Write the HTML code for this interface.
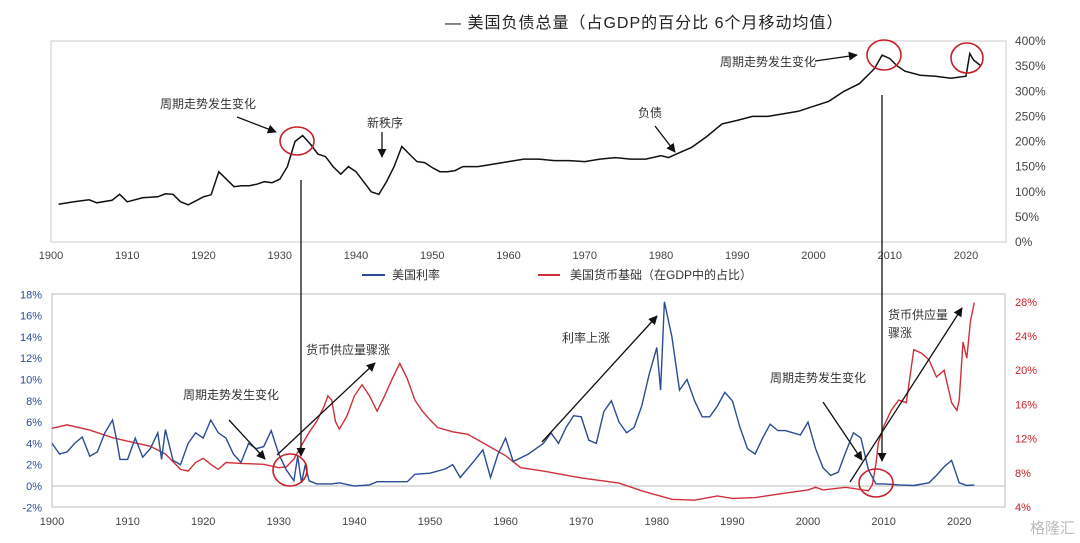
<!DOCTYPE html>
<html><head><meta charset="utf-8"><style>
body{margin:0;background:#fff;}
svg{display:block;font-family:"Liberation Sans","Noto Sans CJK SC",sans-serif;}
</style></head><body>
<svg id="chart" width="1080" height="543" viewBox="0 0 1080 543" xmlns="http://www.w3.org/2000/svg">
<defs>
<marker id="ah" viewBox="0 0 10 10" refX="9" refY="5" markerWidth="7" markerHeight="7" orient="auto"><path d="M0,0L10,5L0,10z" fill="#111"/></marker>
</defs>
<text x="445" y="28" font-size="16" letter-spacing="1" fill="#222">—  美国负债总量（占GDP的百分比  6个月移动均值）</text>
<g id="topG"></g>
<g id="botG"></g>
<g font-size="12" fill="#333">
<line x1="362" y1="275" x2="385" y2="275" stroke="#2b4c94" stroke-width="2"/>
<text x="392" y="279">美国利率</text>
<line x1="538" y1="275" x2="560" y2="275" stroke="#d0303a" stroke-width="2"/>
<text x="570" y="279">美国货币基础（在GDP中的占比）</text>
</g>
<g font-size="12" fill="#333" stroke-width="1.3">
<text x="160" y="108">周期走势发生变化</text>
<line x1="237" y1="117" x2="276" y2="132" stroke="#111" marker-end="url(#ah)"/>
<ellipse cx="297" cy="141" rx="17" ry="14" fill="none" stroke="#c8202a" stroke-width="1.6"/>
<text x="367" y="127">新秩序</text>
<line x1="382" y1="132" x2="382" y2="157" stroke="#111" marker-end="url(#ah)"/>
<text x="638" y="117">负债</text>
<line x1="655" y1="126" x2="675" y2="152" stroke="#111" marker-end="url(#ah)"/>
<text x="720" y="66">周期走势发生变化</text>
<line x1="815" y1="61" x2="857" y2="55" stroke="#111" marker-end="url(#ah)"/>
<ellipse cx="884" cy="55" rx="17" ry="15" fill="none" stroke="#c8202a" stroke-width="1.6"/>
<ellipse cx="967" cy="58" rx="16" ry="15" fill="none" stroke="#c8202a" stroke-width="1.6"/>
<line x1="301" y1="180" x2="301" y2="456" stroke="#111" marker-end="url(#ah)"/>
<line x1="882" y1="95" x2="882" y2="461" stroke="#111" marker-end="url(#ah)"/>
<text x="183" y="399">周期走势发生变化</text>
<line x1="229" y1="420" x2="265" y2="459" stroke="#111" marker-end="url(#ah)"/>
<ellipse cx="290" cy="470" rx="17" ry="16" fill="none" stroke="#c8202a" stroke-width="1.6"/>
<text x="306" y="354">货币供应量骤涨</text>
<line x1="277" y1="455" x2="375" y2="363" stroke="#111" marker-end="url(#ah)"/>
<text x="562" y="342">利率上涨</text>
<line x1="542" y1="442" x2="657" y2="316" stroke="#111" marker-end="url(#ah)"/>
<text x="770" y="382">周期走势发生变化</text>
<line x1="823" y1="402" x2="862" y2="460" stroke="#111" marker-end="url(#ah)"/>
<ellipse cx="876" cy="483" rx="17" ry="14" fill="none" stroke="#c8202a" stroke-width="1.6"/>
<text x="888" y="319">货币供应量</text>
<text x="888" y="337">骤涨</text>
<line x1="850" y1="482" x2="962" y2="308" stroke="#111" marker-end="url(#ah)"/>
</g>
<text x="1030" y="533" font-size="15" fill="#bbb">格隆汇</text>
</svg>
<script>
const debtYears=[1901,1903,1905,1906,1908,1909,1910,1912,1914,1915,1916,1917,1918,1919,1920,1921,1922,1923,1924,1925,1926,1927,1928,1929,1930,1931,1932,1933,1934,1935,1936,1937,1938,1939,1940,1941,1942,1943,1944,1945,1946,1947,1948,1949,1950,1951,1952,1953,1954,1956,1958,1960,1962,1964,1966,1968,1970,1972,1974,1976,1978,1980,1981,1982,1984,1986,1988,1990,1992,1994,1996,1998,2000,2002,2004,2006,2008,2009,2010,2011,2012,2014,2016,2018,2020,2020.5,2021,2022];
const debtValues=[75,80,84,78,83,95,80,88,90,96,95,80,74,82,90,94,140,125,110,112,112,115,120,118,125,150,200,212,195,175,170,150,135,150,140,120,100,95,120,150,190,175,160,158,148,140,140,142,150,150,155,160,165,165,162,162,160,165,168,165,165,172,168,175,188,210,235,242,250,250,255,260,270,280,300,315,345,372,365,350,340,332,330,326,330,375,362,350];
const debtTicks=[0,50,100,150,200,250,300,350,400];
const yearTicks=[1900,1910,1920,1930,1940,1950,1960,1970,1980,1990,2000,2010,2020];
const rateYears=[1900,1901,1902,1903,1904,1905,1906,1907,1908,1908.5,1909,1910,1911,1912,1913,1914,1914.5,1915,1916,1917,1918,1919,1920,1921,1922,1923,1924,1925,1926,1927,1928,1929,1930,1931,1932,1932.5,1933,1933.5,1934,1935,1937,1938,1940,1942,1943,1947,1948,1950,1952,1953,1954,1956,1957,1958,1959,1960,1961,1963,1965,1966,1967,1968,1969,1970,1971,1972,1973,1974,1975,1976,1977,1978,1979,1980,1980.5,1981,1982,1983,1984,1985,1986,1987,1988,1989,1990,1991,1992,1993,1994,1995,1996,1997,1998,1999,2000,2001,2002,2003,2004,2005,2006,2007,2008,2009,2010,2012,2014,2016,2017,2018,2019,2020,2021,2022];
const rateValues=[4,3,3.2,4,4.6,2.8,3.2,5,6.2,4.5,2.5,2.5,4.5,2.7,3.5,5,2.5,5.3,2.4,2,4,5,4.5,6.2,5,4.5,3,2.2,4,3.5,3.7,5.2,3,1.5,0.5,2.8,0.3,2,0.5,0.2,0.2,0.3,0,0.1,0.4,0.4,1.1,1.2,1.6,2,0.8,2.5,3.4,0.8,3,4.5,2.3,3,4,5,4,5.5,6.6,6.5,4.3,4,7,8,6,5,5.5,7.5,10.5,13,9,17.3,14,9,10,8,6.5,6.5,7.5,8.8,8,5.5,3.5,3,4.5,5.8,5.2,5.2,5,4.8,6,3.5,1.7,1,1.3,3.2,5,4.5,1.5,0.2,0.2,0.1,0.05,0.3,1,1.8,2.4,0.3,0.05,0.1];
const rateTicks=[-2,0,2,4,6,8,10,12,14,16,18];
const moneyYears=[1900,1902,1905,1908,1910,1913,1915,1917,1918,1919,1920,1921,1922,1923,1925,1928,1930,1931,1932,1933,1934,1935,1936,1936.5,1937,1937.5,1938,1939,1940,1941,1942,1943,1944,1945,1946,1947,1948,1949,1950,1951,1953,1955,1958,1960,1962,1965,1970,1975,1978,1982,1985,1988,1990,1993,1996,2000,2001,2002,2005,2008,2008.5,2009,2009.3,2010,2011,2012,2013,2014,2015,2016,2017,2018,2019,2019.7,2020,2020.5,2021,2021.5,2022];
const moneyValues=[13.2,13.6,13,12.1,11.7,11.1,10.2,8.4,8.2,9.2,9.7,9,8.4,9.2,9.1,9,8.6,8.7,9.6,11.2,12.7,14,15.8,17,16.5,14,13.1,14.6,17,18.3,17,15.2,17,19,20.8,19,16.5,15.2,14.2,13.3,12.8,12.5,11,10,8.6,8.2,7.4,6.8,5.9,4.9,4.8,5.3,5,5.1,5.5,6,6.3,6,6.3,5.9,6.6,9.1,11.5,13.4,15.3,16.5,16.2,22.4,22,21.2,19.2,20,16.2,15.3,16.5,23.3,21.4,25.8,27.9];
const moneyTicks=[4,8,12,16,20,24,28];

const NS="http://www.w3.org/2000/svg";
function mk(tag,attrs,parent){const e=document.createElementNS(NS,tag);for(const k in attrs)e.setAttribute(k,attrs[k]);parent.appendChild(e);return e;}
const tX=y=>51+(y-1900)*7.625;
const tY=v=>242-v*201/400;
const topG=document.getElementById('topG');
let f=mk('rect',{x:51,y:41,width:955,height:201,fill:'none',stroke:'#ccc'},topG);


debtTicks.forEach(v=>{const t=mk('text',{x:1015,y:tY(v)+4,'font-size':12,fill:'#444'},topG);t.textContent=v+'%';

});
yearTicks.forEach(y=>{const t=mk('text',{x:tX(y),y:259,'font-size':11,fill:'#444','text-anchor':'middle'},topG);t.textContent=y;

});
let p=mk('path',{d:debtYears.map((y,i)=>(i?'L':'M')+tX(y).toFixed(1)+','+tY(debtValues[i]).toFixed(1)).join(''),fill:'none',stroke:'#111','stroke-width':1.5},topG);


const bX=y=>52+(y-1900)*7.56;
const bY=v=>486-v*21.3/2;
const bY2=v=>507-(v-4)*34.2/4;
const botG=document.getElementById('botG');
f=mk('rect',{x:52,y:294,width:953,height:213,fill:'none',stroke:'#bbb'},botG);


let z=mk('line',{x1:52,x2:1005,y1:bY(0),y2:bY(0),stroke:'#bbb'},botG);


rateTicks.forEach(v=>{const t=mk('text',{x:42,y:bY(v)+4,'font-size':11,fill:'#2b4c94','text-anchor':'end'},botG);t.textContent=v+'%';

});
moneyTicks.forEach(v=>{const t=mk('text',{x:1015,y:bY2(v)+4,'font-size':11,fill:'#c8202a'},botG);t.textContent=v+'%';

});
yearTicks.forEach(y=>{const t=mk('text',{x:bX(y),y:525,'font-size':11,fill:'#444','text-anchor':'middle'},botG);t.textContent=y;

});
p=mk('path',{d:moneyYears.map((y,i)=>(i?'L':'M')+bX(y).toFixed(1)+','+bY2(moneyValues[i]).toFixed(1)).join(''),fill:'none',stroke:'#d0303a','stroke-width':1.4},botG);


p=mk('path',{d:rateYears.map((y,i)=>(i?'L':'M')+bX(y).toFixed(1)+','+bY(rateValues[i]).toFixed(1)).join(''),fill:'none',stroke:'#2b4c94','stroke-width':1.4},botG);


</script>
</body></html>
